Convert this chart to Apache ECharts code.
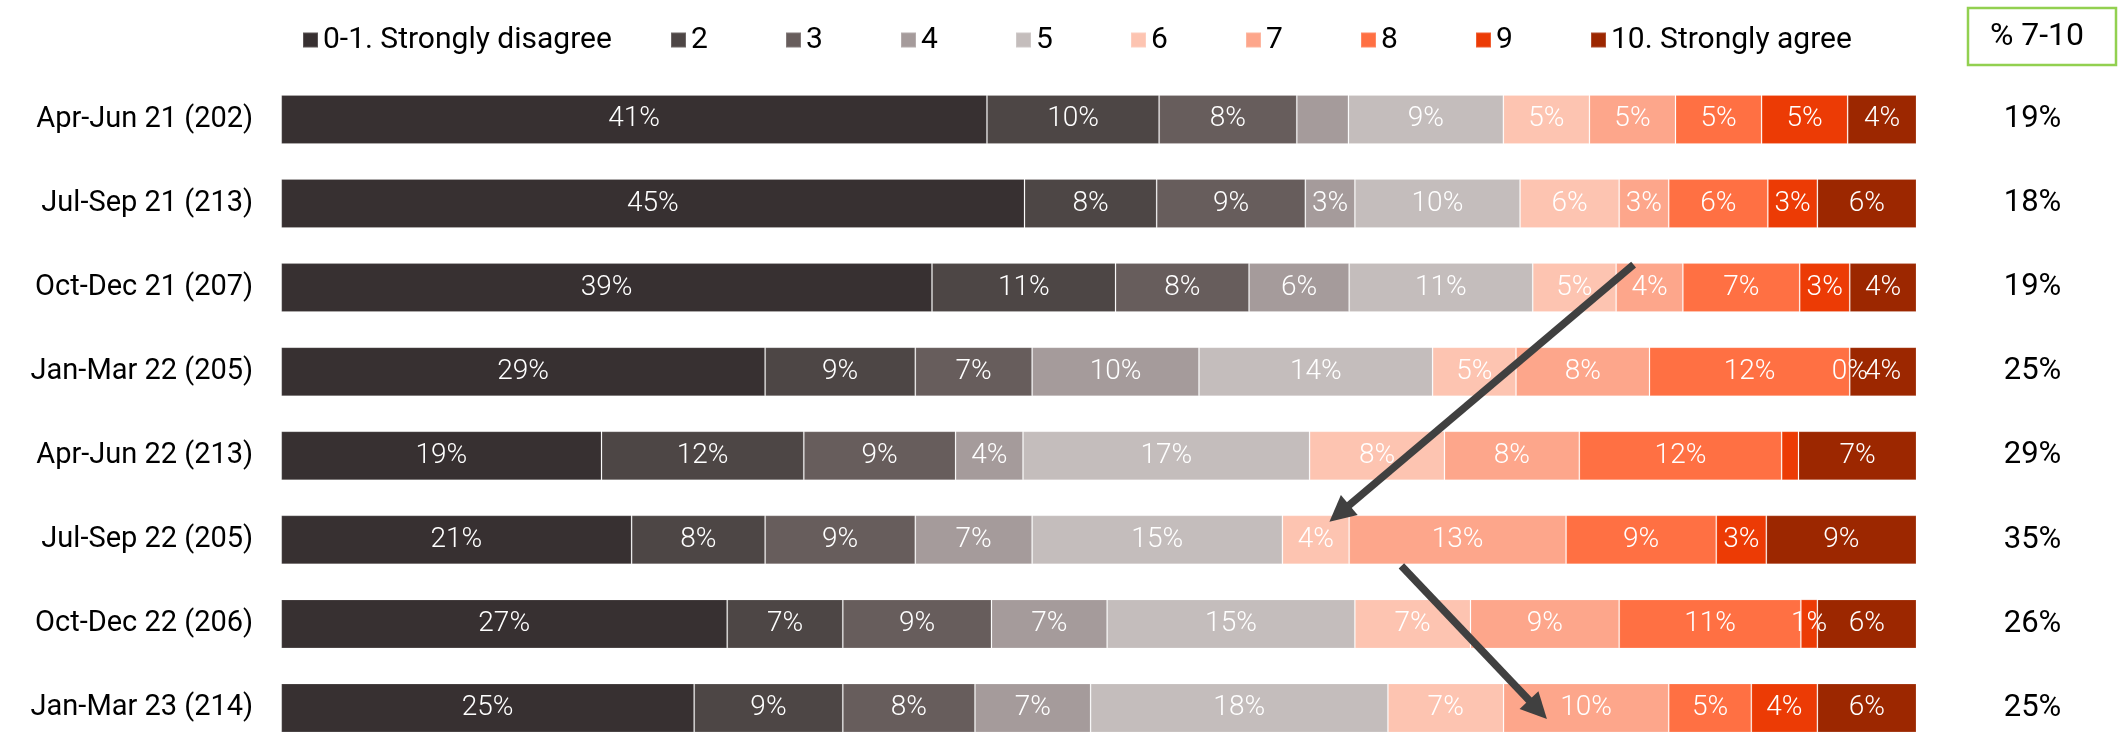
<!DOCTYPE html>
<html>
<head>
<meta charset="utf-8">
<script src="https://cdn.jsdelivr.net/npm/echarts@6/dist/echarts.min.js"></script>
<style>
  html, body { margin: 0; padding: 0; background: #ffffff; }
  #chart { width: 2120px; height: 750px; }
</style>
</head>
<body>
<div id="chart"></div>
<script>
// ---------- data ----------
const categories = ['Apr-Jun 21 (202)', 'Jul-Sep 21 (213)', 'Oct-Dec 21 (207)', 'Jan-Mar 22 (205)',
                    'Apr-Jun 22 (213)', 'Jul-Sep 22 (205)', 'Oct-Dec 22 (206)', 'Jan-Mar 23 (214)'];
const seriesNames = ['0-1. Strongly disagree', '2', '3', '4', '5', '6', '7', '8', '9', '10. Strongly agree'];

const s01 = [41, 45, 39, 29, 19, 21, 27, 25];
const s2  = [10,  8, 11,  9, 12,  8,  7,  9];
const s3  = [ 8,  9,  8,  7,  9,  9,  9,  8];
const s4  = [ 3,  3,  6, 10,  4,  7,  7,  7];
const s5  = [ 9, 10, 11, 14, 17, 15, 15, 18];
const s6  = [ 5,  6,  5,  5,  8,  4,  7,  7];
const s7  = [ 5,  3,  4,  8,  8, 13,  9, 10];
const s8  = [ 5,  6,  7, 12, 12,  9, 11,  5];
const s9  = [ 5,  3,  3,  0,  1,  3,  1,  4];
const s10 = [ 4,  6,  4,  4,  7,  9,  6,  6];

const pct710 = [19, 18, 19, 25, 29, 35, 26, 25];

// labels not shown in the original: [seriesIndex, rowIndex]
const hiddenLabels = [[3, 0], [8, 4]];

const colors = ['#373031', '#4D4645', '#675D5C', '#A59B9B', '#C4BDBC',
                '#FDC4B1', '#FDA68B', '#FF7043', '#EC3B05', '#9C2700'];

// ---------- build ----------
const allSeries = [s01, s2, s3, s4, s5, s6, s7, s8, s9, s10];
const rowTotals = categories.map((c, i) => allSeries.reduce((a, s) => a + s[i], 0));
const FONT = 'Roboto, "Noto Sans", sans-serif';

const series = allSeries.map((vals, si) => ({
  name: seriesNames[si],
  type: 'bar',
  stack: 'total',
  barWidth: 49,
  itemStyle: { color: colors[si], borderColor: 'rgba(255,255,255,0.18)', borderWidth: 1 },
  label: {
    show: true,
    position: 'inside',
    color: '#ffffff',
    fontFamily: FONT,
    fontWeight: 300,
    fontSize: 28,
    formatter: p => vals[p.dataIndex] + '%'
  },
  data: vals.map((v, ri) => {
    const item = { value: v / rowTotals[ri] * 100 };
    if (hiddenLabels.some(h => h[0] === si && h[1] === ri)) item.label = { show: false };
    return item;
  })
}));

const legendData = seriesNames.map((n, i) => {
  const d = { name: n, textStyle: {} };
  if (i === 0) d.textStyle.width = 347;
  else if (i < seriesNames.length - 1) d.textStyle.width = 94;
  return d;
});

const chart = echarts.init(document.getElementById('chart'), null, { renderer: 'canvas' });
chart.setOption({
  animation: false,
  backgroundColor: '#ffffff',
  legend: {
    data: legendData,
    left: 297,
    top: 18,
    icon: 'rect',
    itemWidth: 15,
    itemHeight: 15,
    itemGap: 0,
    selectedMode: false,
    textStyle: { fontFamily: FONT, fontSize: 30, color: '#000000', lineHeight: 34, padding: [0, 0, 0, 0] }
  },
  grid: { left: 281.2, right: 203.5, top: 77.4, height: 689.4, containLabel: false },
  xAxis: { type: 'value', min: 0, max: 100, show: false },
  yAxis: [
    {
      type: 'category', data: categories, inverse: true,
      axisLine: { show: false }, axisTick: { show: false }, splitLine: { show: false },
      axisLabel: { fontFamily: FONT, fontSize: 29, color: '#000000', margin: 28 }
    },
    {
      type: 'category', data: pct710.map(v => v + '%'), inverse: true, position: 'right',
      axisLine: { show: false }, axisTick: { show: false }, splitLine: { show: false },
      axisLabel: { fontFamily: FONT, fontSize: 31, color: '#000000', margin: 116, align: 'center' }
    }
  ],
  series: series
});

// ---------- annotations (header box and arrows) ----------
// arrows: [xValueStart, rowStart, dyStart, xValueEnd, rowEnd, dyEnd]
const arrows = [
  [82.7, 2, -23, 64.1, 5, -18],
  [68.5, 5, 26, 77.4, 7, 11]
];
const graphics = [
  { type: 'rect', shape: { x: 1968, y: 8, width: 148, height: 57 },
    style: { fill: '#ffffff', stroke: '#92D050', lineWidth: 2.5 }, z: 100 },
  { type: 'text', x: 2037, y: 37, z: 101,
    style: { text: '% 7-10', font: '32px ' + FONT, fill: '#000000', textAlign: 'center', textVerticalAlign: 'middle' } }
];
arrows.forEach(a => {
  const p1 = chart.convertToPixel({ gridIndex: 0 }, [a[0], a[1]]);
  const p2 = chart.convertToPixel({ gridIndex: 0 }, [a[3], a[4]]);
  const x1 = p1[0], y1 = p1[1] + a[2], x2 = p2[0], y2 = p2[1] + a[5];
  const dx = x2 - x1, dy = y2 - y1, len = Math.sqrt(dx * dx + dy * dy);
  const ux = dx / len, uy = dy / len, nx = -uy, ny = ux;
  const L = 26, W = 13;
  const bx = x2 - ux * L, by = y2 - uy * L;
  graphics.push({ type: 'line', z: 100, shape: { x1: x1, y1: y1, x2: bx + ux * 2, y2: by + uy * 2 },
    style: { stroke: '#404040', lineWidth: 7.5 } });
  graphics.push({ type: 'polygon', z: 100, shape: { points: [[x2, y2], [bx + nx * W, by + ny * W], [bx - nx * W, by - ny * W]] },
    style: { fill: '#404040' } });
});
chart.setOption({ graphic: graphics });
</script>
</body>
</html>
